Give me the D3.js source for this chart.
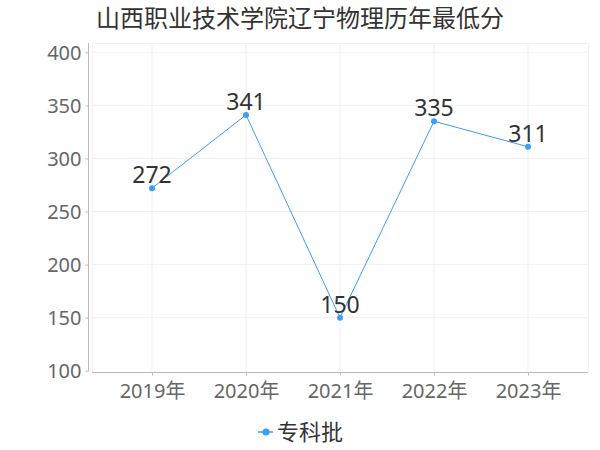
<!DOCTYPE html>
<html><head><meta charset="utf-8">
<script src="https://cdn.jsdelivr.net/npm/d3@7/dist/d3.min.js"></script>
<style>body{margin:0;background:#fff;}svg{display:block;font-family:"Noto Sans","Noto Sans CJK SC",sans-serif;}</style>
</head><body>
<script>
const title = "山西职业技术学院辽宁物理历年最低分";
const categories = ["2019年","2020年","2021年","2022年","2023年"];
const seriesName = "专科批";
const values = [272, 341, 150, 335, 311];
const yTicks = [100,150,200,250,300,350,400];

const W=600,H=450;
const svg=d3.select("body").append("svg").attr("width",W).attr("height",H);
const color="#3a9ff5";
const x=d3.scalePoint().domain(categories).range([152,528]);
const y=d3.scaleLinear().domain([100,400]).range([370.7,52.3]);

svg.append("text").attr("x",300).attr("y",27).attr("text-anchor","middle")
  .attr("font-size",24).attr("fill","#333").attr("font-family","'Noto Sans CJK SC',sans-serif").text(title);

// grid
const g=svg.append("g");
g.selectAll(".hg").data(yTicks.slice(1)).join("line")
  .attr("x1",92).attr("x2",588).attr("y1",d=>y(d)).attr("y2",d=>y(d))
  .attr("stroke","#f0f0f0").attr("stroke-width",1);
g.append("line").attr("x1",92).attr("x2",588).attr("y1",43.5).attr("y2",43.5).attr("stroke","#f0f0f0");
g.selectAll(".vg").data(categories).join("line")
  .attr("x1",d=>x(d)).attr("x2",d=>x(d)).attr("y1",43).attr("y2",372)
  .attr("stroke","#f0f0f0");
g.append("line").attr("x1",588.5).attr("x2",588.5).attr("y1",43).attr("y2",372).attr("stroke","#f0f0f0");
g.append("line").attr("x1",92.5).attr("x2",92.5).attr("y1",43).attr("y2",372).attr("stroke","#f0f0f0");

// y axis
const ya=svg.append("g").attr("transform","translate(88.5,0)")
  .call(d3.axisLeft(y).tickValues(yTicks).tickSize(3).tickPadding(4));
ya.select(".domain").attr("stroke","#bbb").attr("d","M0,43V371");
ya.selectAll(".tick line").attr("stroke","#bbb");
ya.selectAll("text").attr("font-size",20).attr("fill","#666").attr("font-family","'Noto Sans',sans-serif").attr("dy","0.35em");

// x axis
const xa=svg.append("g").attr("transform","translate(0,372.5)")
  .call(d3.axisBottom(x).tickSize(3).tickPadding(6));
xa.select(".domain").attr("stroke","#bbb").attr("d","M92,0H588");
xa.selectAll(".tick line").attr("stroke","#bbb");
xa.selectAll("text").attr("font-size",20).attr("fill","#666").attr("font-family","'Noto Sans','Noto Sans CJK SC',sans-serif").attr("dy","0.8em");

// line
const data=categories.map((c,i)=>({c,v:values[i]}));
svg.append("path").datum(data).attr("fill","none").attr("stroke",color).attr("stroke-width",1)
  .attr("d",d3.line().x(d=>x(d.c)).y(d=>y(d.v)));
svg.selectAll(".pt").data(data).join("circle").attr("cx",d=>x(d.c)).attr("cy",d=>y(d.v)).attr("r",3).attr("fill",color);
svg.selectAll(".lbl").data(data).join("text").attr("x",d=>x(d.c)).attr("y",d=>y(d.v)-5)
  .attr("text-anchor","middle").attr("font-size",23).attr("fill","#333")
  .attr("font-family","'Noto Sans',sans-serif").text(d=>d.v);

// legend
const lg=svg.append("g").attr("transform","translate(266,432)");
lg.append("line").attr("x1",-8).attr("x2",7).attr("stroke",color).attr("stroke-width",1.5);
lg.append("circle").attr("r",3.5).attr("fill",color);
lg.append("text").attr("x",11).attr("y",0).attr("dy","0.35em").attr("font-size",22).attr("fill","#333")
  .attr("font-family","'Noto Sans CJK SC',sans-serif").text(seriesName);
</script>
</body></html>
